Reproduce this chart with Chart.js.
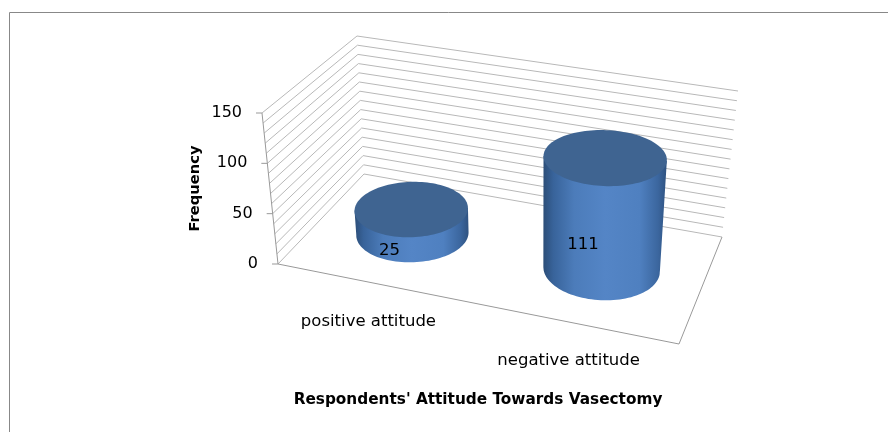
<!DOCTYPE html>
<html>
<head>
<meta charset="utf-8">
<script src="https://cdn.jsdelivr.net/npm/chart.js@4/dist/chart.umd.min.js"></script>
<style>
  html, body { margin: 0; background: #fff; }
  canvas { display: block; }
</style>
</head>
<body>
<canvas id="chart" width="888" height="432"></canvas>
<script>
// data
const categories = ['positive attitude', 'negative attitude'];
const frequencies = [25, 111];
const tickLabels = [0, 50, 100, 150];

// the 3D box: corners of the floor and of the 150 plane, order front-left, front-right, back-right, back-left
const floorQuad = [[278, 264], [679, 344], [722, 237], [364, 174]];
const topQuad = [[262, 113], [688, 185], [738, 91], [357, 36]];
const FONT = '"DejaVu Sans"';

function quadMap(q) {
    const [[x0, y0], [x1, y1], [x2, y2], [x3, y3]] = q;
    const dx1 = x1 - x2, dx2 = x3 - x2, sx = x0 - x1 + x2 - x3;
    const dy1 = y1 - y2, dy2 = y3 - y2, sy = y0 - y1 + y2 - y3;
    const den = dx1 * dy2 - dx2 * dy1;
    const g = (sx * dy2 - dx2 * sy) / den;
    const h = (dx1 * sy - sx * dy1) / den;
    const a = x1 - x0 + g * x1, b = x3 - x0 + h * x3;
    const d = y1 - y0 + g * y1, e = y3 - y0 + h * y3;
    return (u, v) => {
        const w = g * u + h * v + 1;
        return [(a * u + b * v + x0) / w, (d * u + e * v + y0) / w];
    };
}
const floorAt = quadMap(floorQuad);
const topAt = quadMap(topQuad);

// u along the categories, v into the depth, f = share of the value axis
function project(u, v, f) {
    const p = floorAt(u, v), t = topAt(u, v);
    return [p[0] + (t[0] - p[0]) * f, p[1] + (t[1] - p[1]) * f];
}

function segment(ctx, a, b) {
    ctx.beginPath();
    ctx.moveTo(a[0], a[1]);
    ctx.lineTo(b[0], b[1]);
    ctx.stroke();
}

function drawCylinder(ctx, u, f, ru, rv) {
    const base = [], top = [];
    for (let i = 0; i < 120; i++) {
        const t = i / 120 * Math.PI * 2;
        const cu = u + ru * Math.cos(t), cv = 0.5 + rv * Math.sin(t);
        base.push(project(cu, cv, 0));
        top.push(project(cu, cv, f));
    }
    let li = 0, ri = 0;
    base.forEach((p, i) => {
        if (p[0] < base[li][0]) li = i;
        if (p[0] > base[ri][0]) ri = i;
    });
    const midY = (base[li][1] + base[ri][1]) / 2;
    const front = base.filter(p => p[1] >= midY).sort((a, b) => a[0] - b[0]);

    const left = Math.min(base[li][0], top[li][0]);
    const right = Math.max(base[ri][0], top[ri][0]);
    const grad = ctx.createLinearGradient(left, 0, right, 0);
    grad.addColorStop(0, '#2c4e78');
    grad.addColorStop(0.08, '#38639a');
    grad.addColorStop(0.25, '#4c7cba');
    grad.addColorStop(0.5, '#5485c6');
    grad.addColorStop(0.78, '#4f80c0');
    grad.addColorStop(0.93, '#3b669e');
    grad.addColorStop(1, '#2f5280');

    ctx.beginPath();
    ctx.moveTo(top[li][0], top[li][1]);
    ctx.lineTo(base[li][0], base[li][1]);
    front.forEach(p => ctx.lineTo(p[0], p[1]));
    ctx.lineTo(base[ri][0], base[ri][1]);
    ctx.lineTo(top[ri][0], top[ri][1]);
    ctx.closePath();
    ctx.fillStyle = grad;
    ctx.fill();

    ctx.beginPath();
    top.forEach((p, i) => i ? ctx.lineTo(p[0], p[1]) : ctx.moveTo(p[0], p[1]));
    ctx.closePath();
    ctx.fillStyle = '#3f6491';
    ctx.fill();

    return { x: (left + right) / 2, frontBase: Math.max(...base.map(p => p[1])), frontTop: Math.max(...top.map(p => p[1])) };
}

const box3d = {
    id: 'box3d',
    beforeDatasetsDraw(chart) {
        const ctx = chart.ctx, y = chart.scales.y, area = chart.chartArea;
        const share = v => (area.bottom - y.getPixelForValue(v)) / area.height;

        ctx.save();
        // outer frame of the picture, only top and left show
        ctx.strokeStyle = '#888888';
        ctx.lineWidth = 1;
        segment(ctx, [888, 12.5], [9.5, 12.5]);
        segment(ctx, [9.5, 12.5], [9.5, 432]);

        ctx.strokeStyle = '#b8b8b8';
        y.ticks.forEach(t => {
            const f = share(t.value);
            segment(ctx, project(0, 0, f), project(0, 1, f));
            segment(ctx, project(0, 1, f), project(1, 1, f));
        });

        ctx.strokeStyle = '#999999';
        segment(ctx, project(0, 0, 0), project(0, 0, 1));
        segment(ctx, project(0, 0, 0), project(1, 0, 0));
        segment(ctx, project(1, 0, 0), project(1, 1, 0));

        ctx.fillStyle = '#000';
        ctx.font = '16px ' + FONT;
        ctx.textBaseline = 'middle';
        ctx.textAlign = 'right';
        tickLabels.forEach(v => {
            const p = project(0, 0, share(v));
            ctx.strokeStyle = '#999999';
            segment(ctx, [p[0] - 6, p[1]], p);
            ctx.fillText(String(v), p[0] - 20, p[1]);
        });

        const x = chart.scales.x;
        ctx.font = '16.5px ' + FONT;
        ctx.textAlign = 'center';
        categories.forEach((c, i) => {
            const u = (x.getPixelForTick(i) - area.left) / area.width;
            const p = project(u, 0, 0);
            ctx.fillText(c, p[0] - 3.5, p[1] + 38.5);
        });
        ctx.restore();
    },
    afterDatasetsDraw(chart) {
        const ctx = chart.ctx, area = chart.chartArea;
        ctx.save();
        chart.getDatasetMeta(0).data.forEach((bar, i) => {
            const u = (bar.x - area.left) / area.width;
            const f = (area.bottom - bar.y) / area.height;
            const ru = bar.width / area.width / 2;
            const c = drawCylinder(ctx, u, f, ru, ru * 2);
            ctx.fillStyle = '#000';
            ctx.font = '16.5px ' + FONT;
            ctx.textAlign = 'center';
            ctx.textBaseline = 'middle';
            ctx.fillText(String(frequencies[i]), c.x - 22, (c.frontBase + c.frontTop) / 2 + 1);
        });
        ctx.restore();
    }
};

new Chart(document.getElementById('chart'), {
    type: 'bar',
    data: {
        labels: categories,
        datasets: [{
            data: frequencies,
            backgroundColor: 'transparent',
            barPercentage: 0.57,
            categoryPercentage: 1
        }]
    },
    plugins: [box3d],
    options: {
        responsive: false,
        animation: false,
        events: [],
        layout: { padding: { left: 186, top: 113, right: 194, bottom: 0 } },
        plugins: { legend: { display: false }, tooltip: { enabled: false } },
        scales: {
            x: {
                grid: { display: false },
                border: { display: false },
                ticks: { display: false },
                afterFit(scale) { scale.height = 168; },
                title: {
                    display: true,
                    text: "Respondents' Attitude Towards Vasectomy",
                    color: '#000',
                    font: { family: FONT, size: 15.3, weight: 'bold' },
                    padding: { top: 0, bottom: 23 }
                }
            },
            y: {
                min: 0,
                max: 150,
                grid: { display: false },
                border: { display: false },
                ticks: { display: false, stepSize: 10 },
                afterFit(scale) { scale.width = 76; },
                title: {
                    display: true,
                    text: 'Frequency',
                    color: '#000',
                    font: { family: FONT, size: 14.7, weight: 'bold' },
                    padding: { top: 0, bottom: 0 }
                }
            }
        }
    }
});
</script>
</body>
</html>
